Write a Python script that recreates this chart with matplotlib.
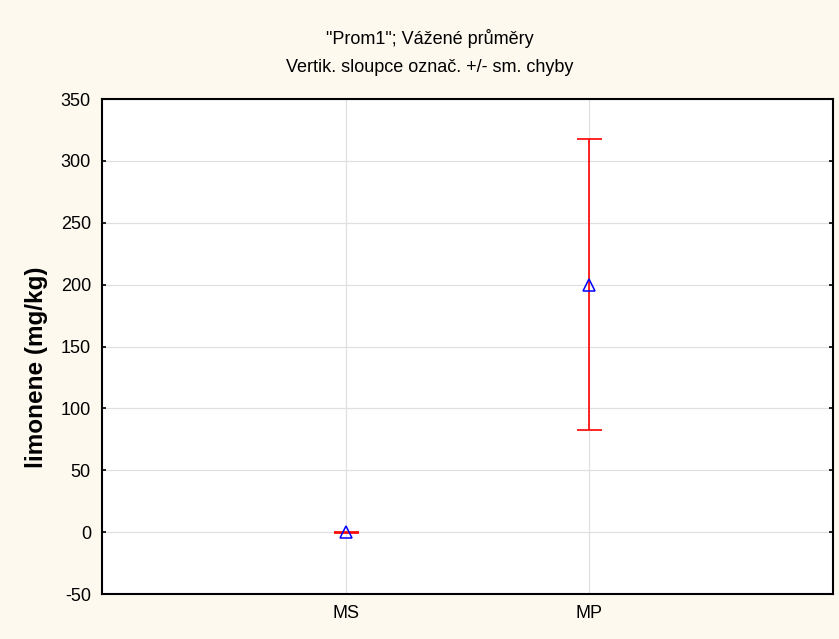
import numpy as np
import matplotlib.pyplot as plt

plt.rcParams['font.family'] = ['Liberation Sans', 'DejaVu Sans']
plt.rcParams['axes.unicode_minus'] = False

# weighted means with +/- standard error
groups = ["MS", "MP"]
means = [0.0, 200.0]
std_err = [0.3, 117.5]
y_ticks = [-50, 0, 50, 100, 150, 200, 250, 300, 350]

bg = "#fdf9ef"
fig = plt.figure(figsize=(8.39, 6.39), dpi=100, facecolor=bg)
ax = fig.add_axes([0.1216, 0.0704, 0.8712, 0.7746])
ax.set_facecolor("white")

x = np.arange(1, len(groups) + 1)
ax.errorbar(x, means, yerr=std_err, fmt="none", ecolor="red",
            elinewidth=1.2, capsize=9, capthick=1.2, zorder=3)
ax.plot(x, means, linestyle="none", marker="^", markersize=9,
        markerfacecolor="none", markeredgecolor="blue",
        markeredgewidth=1.1, zorder=4)

ax.set_xlim(0, 3)
ax.set_ylim(-50, 350)
ax.set_xticks(x)
ax.set_xticklabels(groups)
ax.set_yticks(y_ticks)
ax.grid(True, color="#e0e0e0", linewidth=0.9)
ax.set_axisbelow(True)
ax.tick_params(axis="y", direction="in", length=3, width=1.2,
               right=True, labelsize=13, pad=8)
ax.tick_params(axis="x", length=0, labelsize=13, pad=8)
for s in ax.spines.values():
    s.set_linewidth(1.5)

fig.text(37 / 839, 1 - 367 / 639, "limonene (mg/kg)", rotation=90,
         ha="center", va="center", fontsize=17.5, fontweight="bold")

fig.text(0.512, 0.940, "\"Prom1\"; Vážené průměry", ha="center", va="center", fontsize=13)
fig.text(0.512, 0.895, "Vertik. sloupce označ. +/- sm. chyby", ha="center", va="center", fontsize=13)

fig.savefig("out.png", dpi=100, facecolor=bg)
